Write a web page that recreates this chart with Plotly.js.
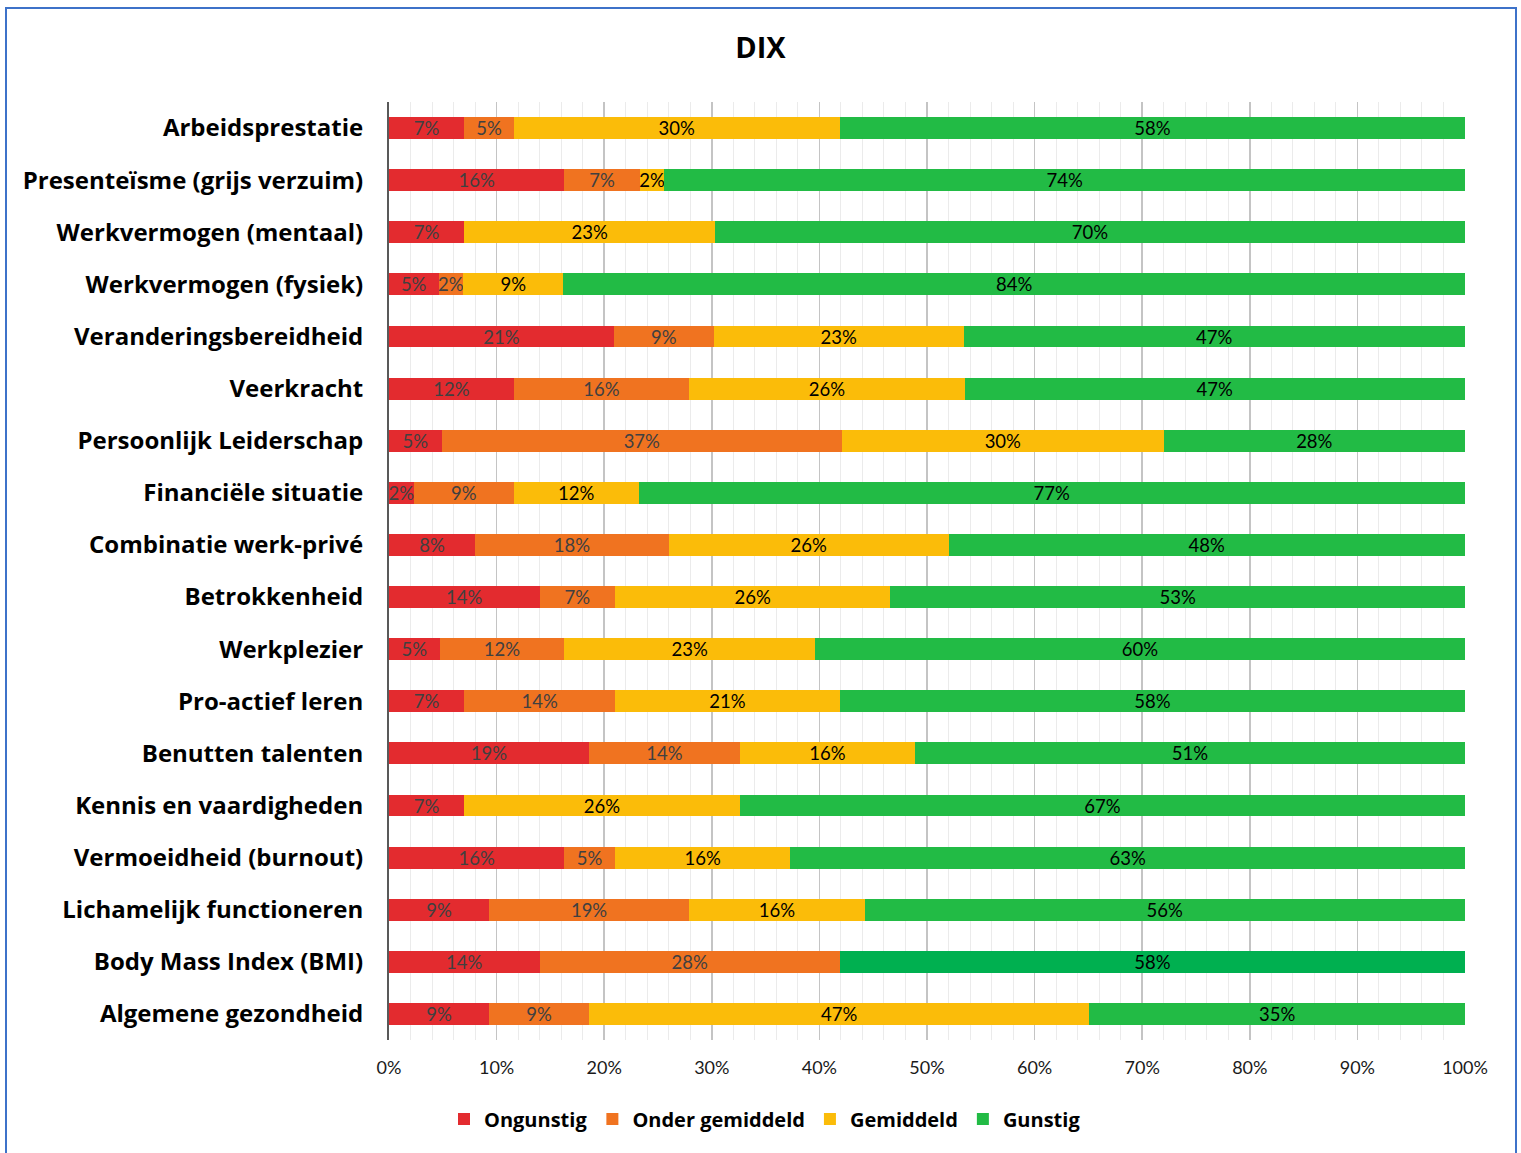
<!DOCTYPE html>
<html>
<head>
<meta charset="utf-8">
<script src="https://cdn.plot.ly/plotly-3.0.1.min.js"></script>
<style>
  html, body { margin: 0; padding: 0; background: #fff; }
  #wrap { position: relative; width: 1521px; height: 1153px; }
  #chart { position: absolute; left: 0; top: 0; width: 1521px; height: 1153px; }
  #frame { position: absolute; left: 5px; top: 7px; width: 1508px; height: 1150px; border: 2px solid #3d72c9; pointer-events: none; }
</style>
</head>
<body>
<div id="wrap">
  <div id="chart"></div>
  <div id="frame"></div>
</div>
<script>
const categories = [
  "Arbeidsprestatie",
  "Presenteïsme (grijs verzuim)",
  "Werkvermogen (mentaal)",
  "Werkvermogen (fysiek)",
  "Veranderingsbereidheid",
  "Veerkracht",
  "Persoonlijk Leiderschap",
  "Financiële situatie",
  "Combinatie werk-privé",
  "Betrokkenheid",
  "Werkplezier",
  "Pro-actief leren",
  "Benutten talenten",
  "Kennis en vaardigheden",
  "Vermoeidheid (burnout)",
  "Lichamelijk functioneren",
  "Body Mass Index (BMI)",
  "Algemene gezondheid"
];
const seriesNames = ["Ongunstig", "Onder gemiddeld", "Gemiddeld", "Gunstig"];
const ongunstig      = [7.0, 16.3, 7.0, 4.6, 20.9, 11.6, 4.9, 2.3, 8.0, 14.0, 4.7, 7.0, 18.6, 7.0, 16.3, 9.3, 14.0, 9.3];
const onderGemiddeld = [4.6, 7.0, 0, 2.3, 9.3, 16.3, 37.2, 9.3, 18.0, 7.0, 11.6, 14.0, 14.0, 0, 4.7, 18.6, 27.9, 9.3];
const gemiddeld      = [30.3, 2.3, 23.3, 9.3, 23.2, 25.6, 29.9, 11.6, 26.0, 25.6, 23.3, 20.9, 16.3, 25.6, 16.3, 16.3, 0, 46.5];
const gunstig        = [58.1, 74.4, 69.7, 83.8, 46.6, 46.5, 28.0, 76.8, 48.0, 53.4, 60.4, 58.1, 51.1, 67.4, 62.7, 55.8, 58.1, 34.9];
const tickVals = [0, 10, 20, 30, 40, 50, 60, 70, 80, 90, 100];

const colors = ["#e32b2f", "#f07320", "#fbbc09", "#22bb45"];
const bmiGreen = "#00b050";
const textColors = ["#404040", "#404040", "#000000", "#000000"];
const FONT = "Lato, 'Open Sans', sans-serif";
const LABELFONT = "'Open Sans', Lato, sans-serif";

const seriesValues = [ongunstig, onderGemiddeld, gemiddeld, gunstig];
const traces = seriesValues.map((vals, i) => {
  let mc = colors[i];
  if (i === 3) mc = categories.map(c => c.indexOf("BMI") >= 0 ? bmiGreen : colors[3]);
  return {
    type: "bar",
    orientation: "h",
    name: seriesNames[i],
    y: categories,
    x: vals,
    text: vals.map(v => v > 0 ? Math.round(v) + "%" : ""),
    textposition: "inside",
    insidetextanchor: "middle",
    textangle: 0,
    constraintext: "none",
    cliponaxis: false,
    textfont: { family: FONT, size: 18.5, color: textColors[i] },
    marker: { color: mc, line: { width: 0 } },
    hoverinfo: "name+x"
  };
});

const layout = {
  width: 1521,
  height: 1153,
  paper_bgcolor: "#ffffff",
  plot_bgcolor: "#ffffff",
  barmode: "stack",
  bargap: 0.58,
  margin: { l: 389, r: 56, t: 102, b: 113, autoexpand: false },
  title: {
    text: "<b>DIX</b>",
    font: { family: LABELFONT, size: 29, color: "#000" },
    x: 0.5, xanchor: "center",
    y: 1 - 48 / 1153, yanchor: "middle", yref: "container"
  },
  xaxis: {
    range: [0, 100],
    tickvals: tickVals,
    ticktext: tickVals.map(v => v + "%"),
    tickangle: 0,
    showgrid: true,
    gridcolor: "#c4c4c4",
    gridwidth: 1.5,
    minor: { dtick: 2, tick0: 0, showgrid: true, gridcolor: "#ebebeb", gridwidth: 1 },
    zeroline: false,
    showline: false,
    ticks: "",
    ticklabelstandoff: 15,
    tickfont: { family: FONT, size: 18, color: "#1a1a1a" },
    fixedrange: true
  },
  yaxis: {
    autorange: "reversed",
    showline: true,
    linecolor: "#595959",
    linewidth: 2,
    showgrid: false,
    ticks: "",
    ticklabelstandoff: 19,
    tickfont: { family: LABELFONT, size: 24, color: "#000", weight: "bold" },
    fixedrange: true
  },
  showlegend: true,
  legend: {
    orientation: "h",
    x: (765 - 389) / 1076, xanchor: "center",
    y: -(1119 - 1040) / 938, yanchor: "middle",
    font: { family: LABELFONT, size: 20, color: "#000", weight: "bold" },
    traceorder: "normal",
    itemwidth: 30
  }
};

Plotly.newPlot("chart", traces, layout, { displayModeBar: false, staticPlot: true });
</script>
</body>
</html>
